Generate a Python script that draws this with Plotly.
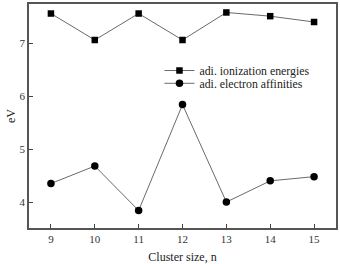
import plotly.graph_objects as go

cluster_size = [9, 10, 11, 12, 13, 14, 15]
ionization = [7.56, 7.06, 7.56, 7.06, 7.58, 7.51, 7.40]
affinity = [4.35, 4.68, 3.84, 5.84, 4.00, 4.40, 4.48]
x_ticks = [9, 10, 11, 12, 13, 14, 15]
y_ticks = [4, 5, 6, 7]

font = "Liberation Serif, Times New Roman, serif"
fig = go.Figure()
fig.add_trace(go.Scatter(x=cluster_size, y=ionization, mode="lines+markers",
                         name="adi. ionization energies", legend="legend",
                         line=dict(color="#6a6a6a", width=1),
                         marker=dict(symbol="square", size=6.5, color="black")))
fig.add_trace(go.Scatter(x=cluster_size, y=affinity, mode="lines+markers",
                         name="adi. electron affinities", legend="legend2",
                         line=dict(color="#6a6a6a", width=1),
                         marker=dict(symbol="circle", size=7.5, color="black")))

axis_common = dict(showgrid=False, zeroline=False, showline=True, linecolor="#555",
                   linewidth=1.5, mirror=True, ticks="inside", ticklen=4,
                   tickcolor="#444", tickfont=dict(family=font, size=11, color="#333"))
fig.update_xaxes(range=[8.5, 15.5], tickvals=x_ticks,
                 title=dict(text="Cluster size, n", font=dict(family=font, size=12, color="#222"), standoff=9),
                 **axis_common)
fig.update_yaxes(range=[3.51, 7.74], tickvals=y_ticks,
                 title=dict(text="eV", font=dict(family=font, size=12, color="#222"), standoff=1),
                 **axis_common)
leg = dict(x=0.425, xanchor="left", yanchor="middle",
           font=dict(family=font, size=11.8, color="#222"),
           bgcolor="rgba(0,0,0,0)", itemwidth=30)
fig.update_layout(width=340, height=264, margin=dict(l=29, r=2, t=3, b=32),
                  paper_bgcolor="white", plot_bgcolor="white", showlegend=True,
                  legend=dict(y=0.703, **leg), legend2=dict(y=0.646, **leg))
fig.write_html("out.html")
